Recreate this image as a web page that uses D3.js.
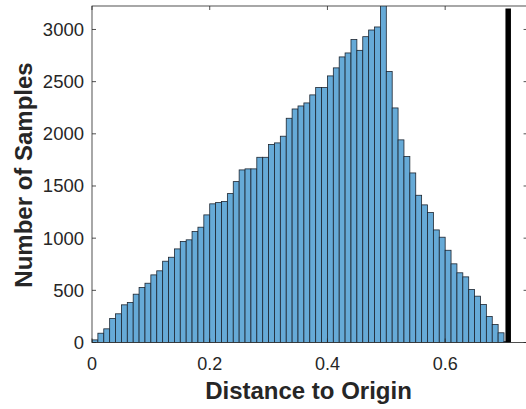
<!DOCTYPE html>
<html>
<head>
<meta charset="utf-8">
<script src="https://cdn.jsdelivr.net/npm/d3@7"></script>
<style>
  body { margin: 0; background: #fff; }
  svg { display: block; font-family: "Liberation Sans", Arial, sans-serif; }
</style>
</head>
<body>
<div id="chart"></div>
<script>
// histogram counts, bins of 0.01 starting at 0
var binWidth = 0.01;
var counts = [25, 89, 131, 230, 275, 361, 383, 463, 527, 568,
              648, 687, 779, 817, 897, 968, 984, 1063, 1105, 1223,
              1329, 1341, 1351, 1427, 1542, 1654, 1664, 1664, 1775, 1775,
              1897, 1913, 1977, 2149, 2238, 2267, 2296, 2373, 2443, 2443,
              2555, 2632, 2737, 2775, 2903, 2800, 2931, 2995, 3024, 3300,
              2597, 2248, 1942, 1782, 1625, 1411, 1319, 1245, 1079, 1009,
              884, 754, 668, 629, 508, 444, 364, 249, 172, 93, 10];
var xTicks = [0, 0.2, 0.4, 0.6];
var yTicks = [0, 500, 1000, 1500, 2000, 2500, 3000];
var limitX = Math.SQRT1_2;   // max possible distance
var limitTop = 3200;

var W = 526, H = 409;
var plotLeft = 92, plotTop = 6, plotBottom = 342.5;

var x = d3.scaleLinear().domain([0, 0.74]).range([plotLeft, plotLeft + 0.74 * 588.6]);
var y = d3.scaleLinear().domain([0, 3225]).range([plotBottom, plotTop]);

var svg = d3.select("#chart").append("svg")
    .attr("width", W)
    .attr("height", H);

svg.append("clipPath").attr("id", "clip")
    .append("rect")
    .attr("x", x(0)).attr("y", y(3225))
    .attr("width", x(0.74) - x(0)).attr("height", plotBottom - plotTop);

var plot = svg.append("g").attr("clip-path", "url(#clip)");

// bars
plot.selectAll("rect.bar")
    .data(counts)
    .enter()
    .append("rect")
    .attr("class", "bar")
    .attr("x", (d, i) => x(i * binWidth))
    .attr("width", (d, i) => x((i + 1) * binWidth) - x(i * binWidth))
    .attr("y", d => y(d))
    .attr("height", d => plotBottom - y(d))
    .style("fill", "#66aad7")
    .style("stroke", "#1c2530")
    .style("stroke-width", 0.8);

// thick black line at sqrt(0.5)
plot.append("line")
    .attr("x1", x(limitX)).attr("x2", x(limitX))
    .attr("y1", y(0)).attr("y2", y(limitTop))
    .style("stroke", "#000")
    .style("stroke-width", 5.5);

// axes box
var axisColor = "#262626";
svg.append("rect")
    .attr("x", x(0)).attr("y", plotTop)
    .attr("width", x(0.74) - x(0)).attr("height", plotBottom - plotTop)
    .style("fill", "none")
    .style("stroke", axisColor)
    .style("stroke-width", 0.8);

// x ticks (bottom and top, inward)
xTicks.forEach(t => {
    svg.append("line")
        .attr("x1", x(t)).attr("x2", x(t))
        .attr("y1", plotBottom).attr("y2", plotBottom - 4)
        .style("stroke", axisColor).style("stroke-width", 0.8);
    svg.append("line")
        .attr("x1", x(t)).attr("x2", x(t))
        .attr("y1", plotTop).attr("y2", plotTop + 4)
        .style("stroke", axisColor).style("stroke-width", 0.8);
    svg.append("text")
        .attr("x", x(t))
        .attr("y", 370)
        .attr("text-anchor", "middle")
        .style("font-size", "18px")
        .style("fill", axisColor)
        .text(t === 0 ? "0" : d3.format(".1f")(t));
});

// y ticks
yTicks.forEach(t => {
    svg.append("line")
        .attr("x1", x(0)).attr("x2", x(0) + 4)
        .attr("y1", y(t)).attr("y2", y(t))
        .style("stroke", axisColor).style("stroke-width", 0.8);
    svg.append("line")
        .attr("x1", x(0.74)).attr("x2", x(0.74) - 4)
        .attr("y1", y(t)).attr("y2", y(t))
        .style("stroke", axisColor).style("stroke-width", 0.8);
    svg.append("text")
        .attr("x", 84)
        .attr("y", y(t))
        .attr("dy", "0.35em")
        .attr("text-anchor", "end")
        .style("font-size", "18.5px")
        .style("fill", axisColor)
        .text(t);
});

// axis labels
svg.append("text")
    .attr("x", 308.5)
    .attr("y", 399)
    .attr("text-anchor", "middle")
    .style("font-size", "24px")
    .style("font-weight", "bold")
    .style("fill", axisColor)
    .text("Distance to Origin");

svg.append("text")
    .attr("transform", "rotate(-90)")
    .attr("x", -175)
    .attr("y", 32)
    .attr("text-anchor", "middle")
    .style("font-size", "24px")
    .style("font-weight", "bold")
    .style("fill", axisColor)
    .text("Number of Samples");
</script>
</body>
</html>
